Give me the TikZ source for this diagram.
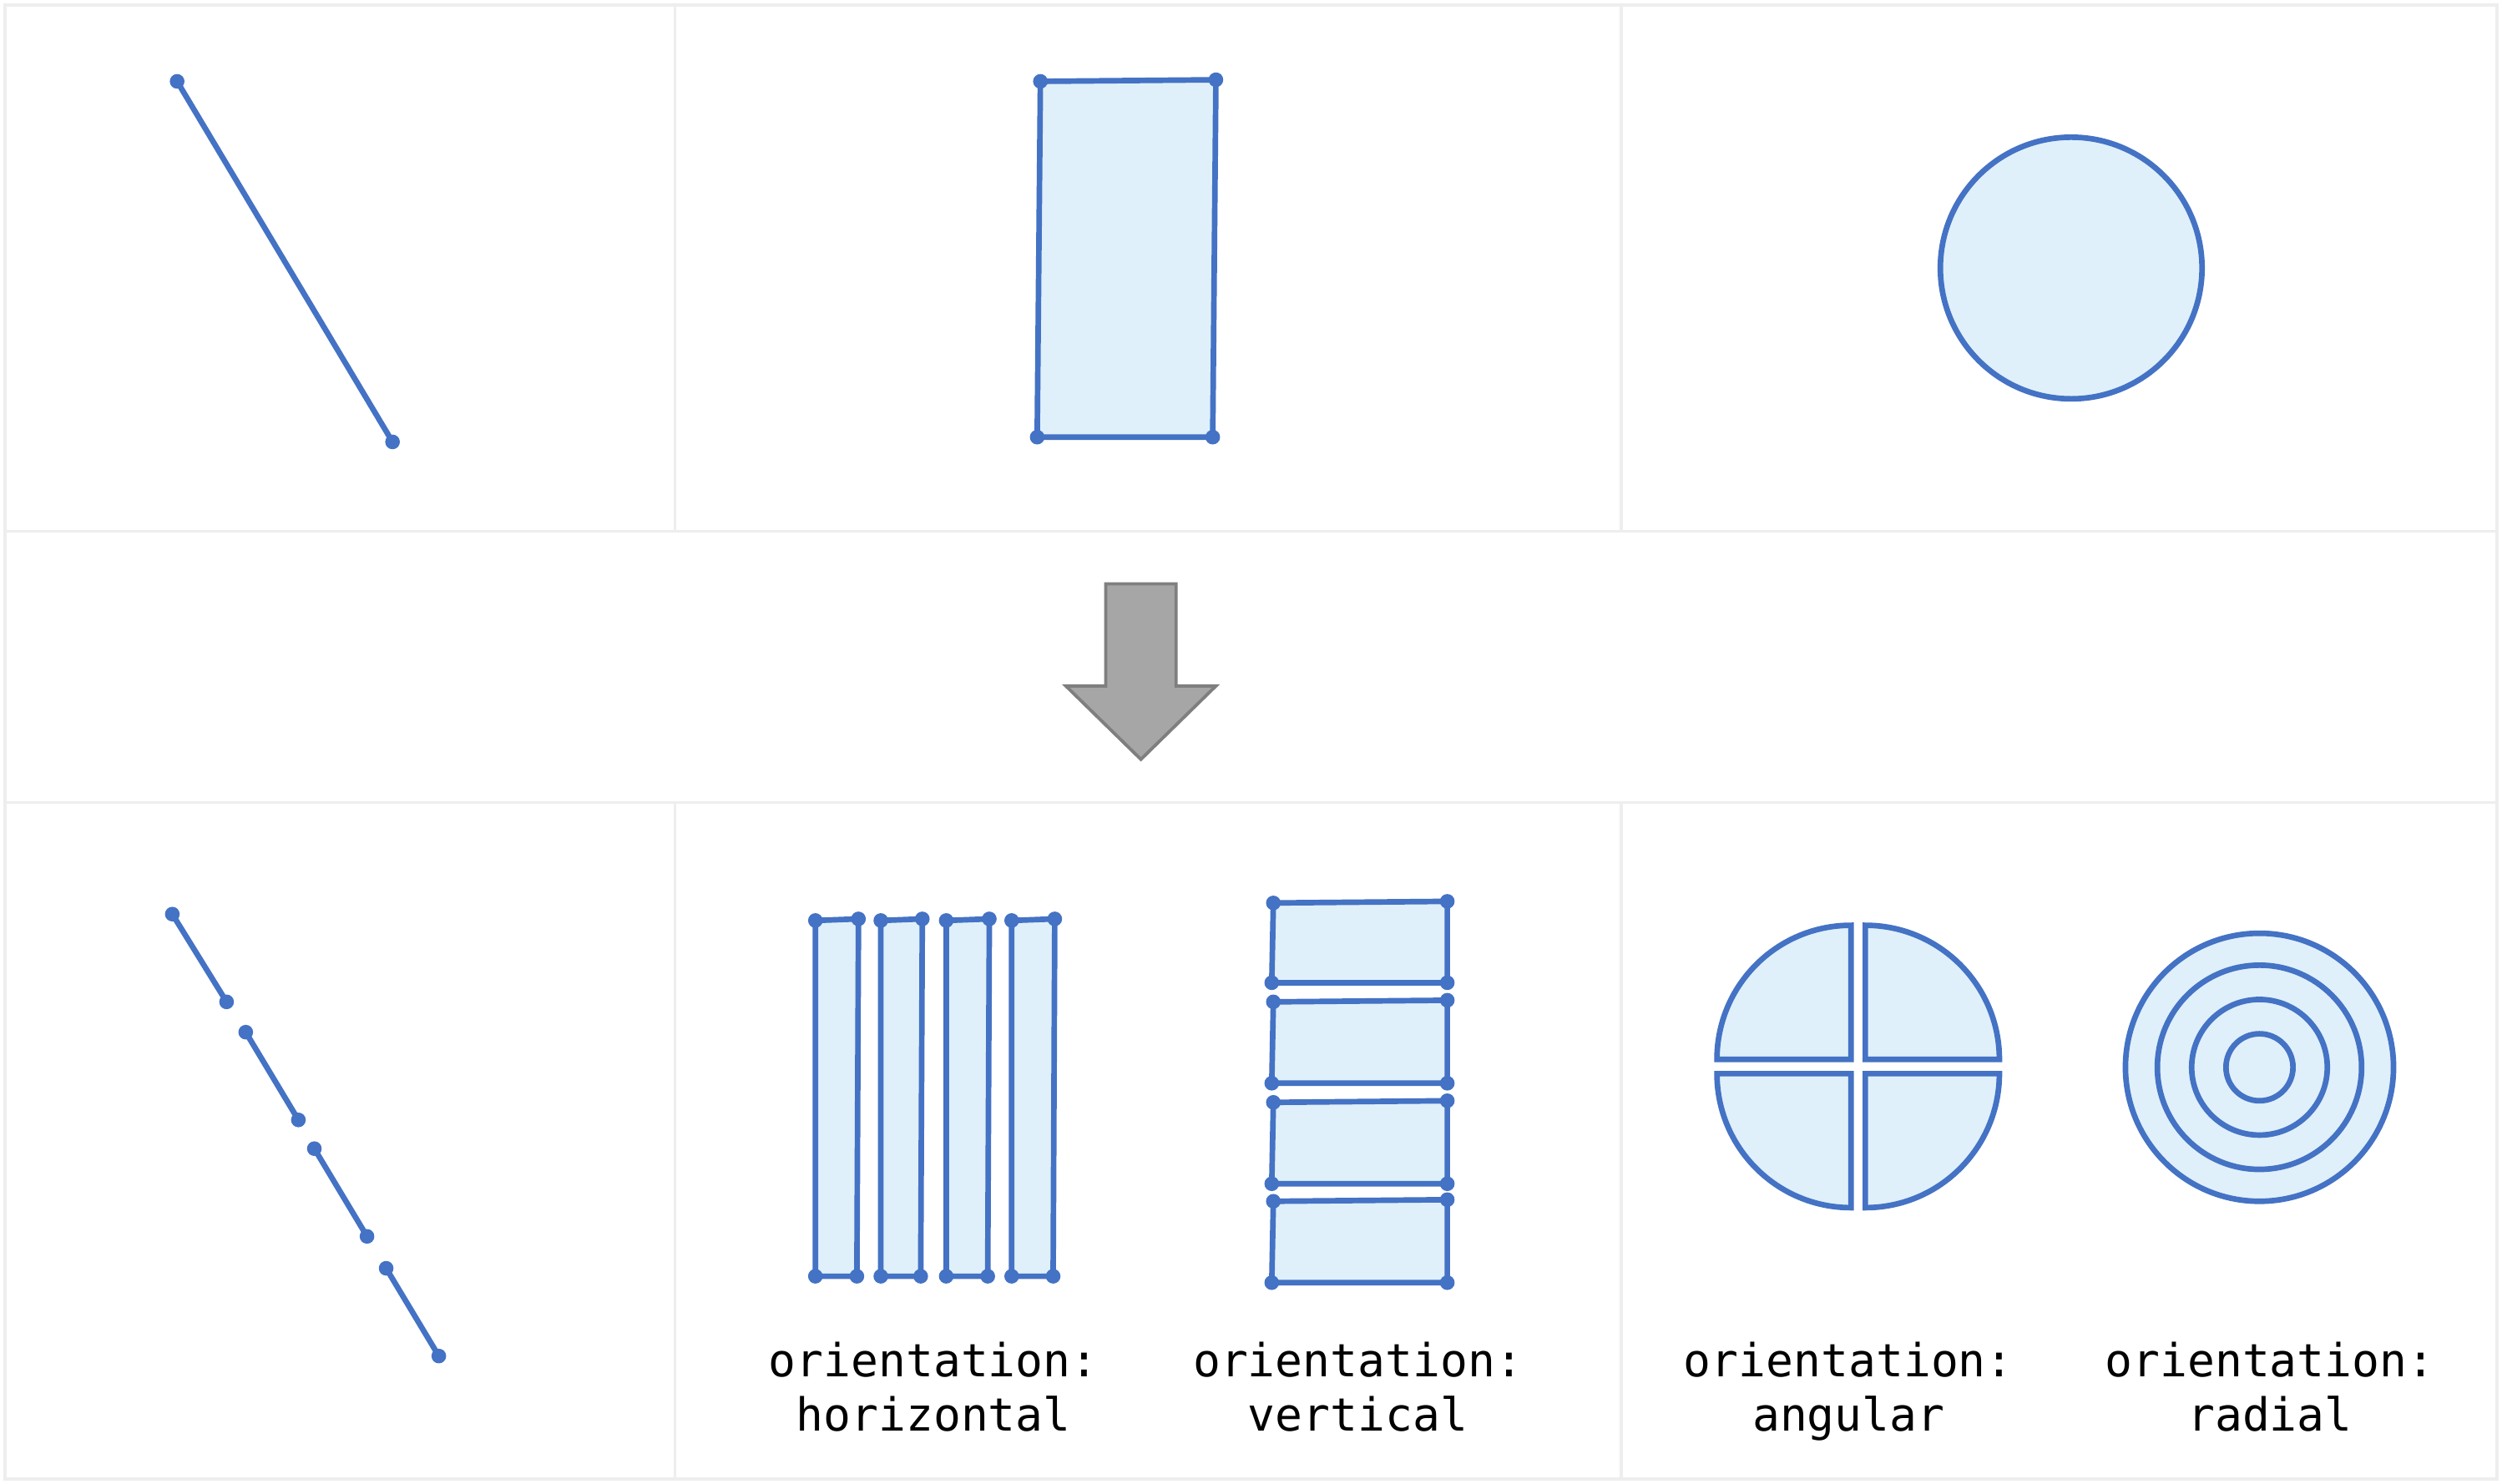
\documentclass[tikz,border=0pt]{standalone}
\usepackage{fontspec}
\newfontfamily\monofont{DejaVu Sans Mono}
\definecolor{blu}{HTML}{4472C4}
\definecolor{lfill}{HTML}{DFF0FA}
\definecolor{gridc}{HTML}{EEEEEE}
\definecolor{arrf}{HTML}{A6A6A6}
\definecolor{arrd}{HTML}{7F7F7F}
\begin{document}
\begin{tikzpicture}[x=1pt,y=-1pt,
  gridline/.style={draw=gridc,line width=2pt},
  shp/.style={draw=blu,fill=lfill,line width=3.5pt,line join=miter},
  seg/.style={draw=blu,line width=3.5pt},
  ring/.style={draw=blu,line width=3.5pt},
  dotc/.style={fill=blu},
  lbl/.style={font=\monofont\fontsize{28.6}{34}\selectfont,align=center,inner sep=0pt},
  bigarrow/.style={draw=arrd,fill=arrf,line width=2pt,line join=miter}]
\useasboundingbox (0,0) rectangle (1568,930);
\fill[white] (0,0) rectangle (1568,930);
% grid
\draw[gridline] (3,3) rectangle (1565,927);
\draw[gridline] (3,333) -- (1565,333);
\draw[gridline] (3,503) -- (1565,503);
\draw[gridline] (423,3) -- (423,333);
\draw[gridline] (1016,3) -- (1016,333);
\draw[gridline] (423,503) -- (423,927);
\draw[gridline] (1016,503) -- (1016,927);
% top-left line
\coordinate (la) at (111,51);
\coordinate (lb) at (246,277);
\draw[seg] (la) -- (lb);
\fill[dotc] (la) circle (4.6pt) (lb) circle (4.6pt);
% top rectangle
\coordinate (ra) at (652,51);
\coordinate (rb) at (762,50);
\coordinate (rc) at (760,274);
\coordinate (rd) at (650,274);
\draw[shp] (ra) -- (rb) -- (rc) -- (rd) -- cycle;
\foreach \p in {ra,rb,rc,rd} \fill[dotc] (\p) circle (4.6pt);
% top circle
\node[shp,circle,minimum size=164pt,inner sep=0pt] (circ) at (1298,168) {};
% big arrow
\draw[bigarrow] (693,366) -- (737,366) -- (737,430) -- (762,430) -- (715,476) -- (668,430) -- (693,430) -- cycle;
% segmented line
\foreach \i/\xa/\ya/\xb/\yb in {1/108/573/142/628, 2/154/647/187/702, 3/197/720/230/775, 4/242/795/275/850}{
  \coordinate (s\i a) at (\xa,\ya);
  \coordinate (s\i b) at (\xb,\yb);
  \draw[seg] (s\i a) -- (s\i b);
  \fill[dotc] (s\i a) circle (4.6pt) (s\i b) circle (4.6pt);
}
% horizontal strips
\foreach \i/\xl/\xr in {1/511/538, 2/552/578, 3/593/620, 4/634/661}{
  \coordinate (h\i a) at (\xl,577);
  \coordinate (h\i b) at (\xr,576);
  \coordinate (h\i c) at (\xr-1,800);
  \coordinate (h\i d) at (\xl,800);
  \draw[shp] (h\i a) -- (h\i b) -- (h\i c) -- (h\i d) -- cycle;
  \foreach \p in {a,b,c,d} \fill[dotc] (h\i\p) circle (4.6pt);
}
% vertical strips
\foreach \i/\yt/\yb in {1/565/616, 2/627/679, 3/690/742, 4/752/804}{
  \coordinate (v\i a) at (798,\yt+1);
  \coordinate (v\i b) at (907,\yt);
  \coordinate (v\i c) at (907,\yb);
  \coordinate (v\i d) at (797,\yb);
  \draw[shp] (v\i a) -- (v\i b) -- (v\i c) -- (v\i d) -- cycle;
  \foreach \p in {a,b,c,d} \fill[dotc] (v\i\p) circle (4.6pt);
}
% angular quadrants
\draw[shp] (1160,664) -- (1076,664) arc[start angle=180,end angle=90,radius=84pt] -- cycle;
\draw[shp] (1169,664) -- (1169,580) arc[start angle=90,end angle=0,radius=84pt] -- cycle;
\draw[shp] (1169,673) -- (1253,673) arc[start angle=0,end angle=-90,radius=84pt] -- cycle;
\draw[shp] (1160,673) -- (1160,757) arc[start angle=270,end angle=180,radius=84pt] -- cycle;
% radial rings
\node[shp,circle,minimum size=168pt,inner sep=0pt] (rad) at (1416,669) {};
\node[ring,circle,minimum size=128pt,inner sep=0pt] (rad2) at (rad.center) {};
\node[ring,circle,minimum size=85pt,inner sep=0pt] (rad3) at (rad.center) {};
\node[ring,circle,minimum size=42pt,inner sep=0pt] (rad4) at (rad.center) {};
% labels
\node[lbl] (t1) at (585,872.4) {orientation:\\horizontal\vphantom{g}};
\node[lbl] (t2) at (851,872.4) {orientation:\\vertical\vphantom{g}};
\node[lbl] (t3) at (1158.5,872.4) {orientation:\\angular\vphantom{g}};
\node[lbl] (t4) at (1422.5,872.4) {orientation:\\radial\vphantom{g}};
\end{tikzpicture}
\end{document}
